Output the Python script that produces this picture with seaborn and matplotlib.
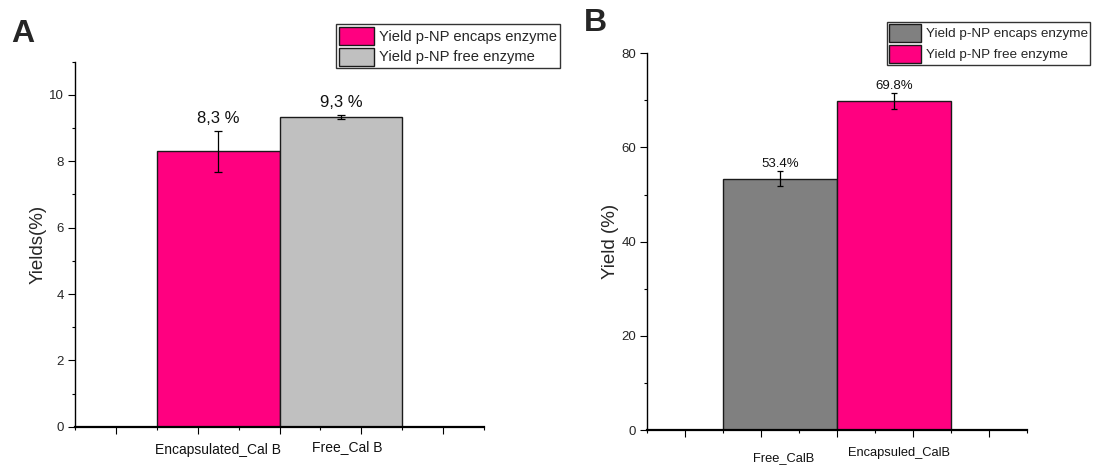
import matplotlib
matplotlib.use("Agg")
import matplotlib.pyplot as plt
import seaborn as sns
import pandas as pd
from matplotlib.ticker import FixedLocator, MultipleLocator, NullFormatter

# ---------------- data ----------------
a_categories = ["Encapsulated_Cal B", "Free_Cal B"]
a_series = ["Yield p-NP encaps enzyme", "Yield p-NP free enzyme"]
a_values = [8.3, 9.35]
a_errors = [0.61, 0.06]
a_value_labels = ["8,3 %", "9,3 %"]

b_categories = ["Free_CalB", "Encapsuled_CalB"]
b_series = ["Yield p-NP encaps enzyme", "Yield p-NP free enzyme"]
b_values = [53.4, 69.8]
b_errors = [1.5, 1.7]
b_value_labels = ["53.4%", "69.8%"]

# ---------------- style ----------------
sns.set_style("ticks")
plt.rcParams["font.family"] = ["Liberation Sans", "DejaVu Sans"]

PINK = "#FF0080"
LIGHT_GRAY = "#C0C0C0"
DARK_GRAY = "#808080"
EDGE = "#1a1a1a"
SLOTS = [3.5, 6.5]          # bar centres on a 0..10 axis

W, H = 1095, 465
fig = plt.figure(figsize=(W / 100, H / 100), dpi=100)
fig.patch.set_facecolor("white")

axA = fig.add_axes([75 / W, 1 - 426.7 / H, 409 / W, (426.7 - 61.8) / H])
axB = fig.add_axes([647.3 / W, 1 - 430 / H, 380 / W, (430 - 53.3) / H])


def draw_panel(ax, cats, series, vals, errs, vlabels, colors, ylim, major, minor,
               ylabel, vfs, voff, capsize, cat_fs, cat_offsets, leg_anchor, leg_kw):
    df = pd.DataFrame({"pos": SLOTS, "value": vals, "series": series})
    sns.barplot(data=df, x="pos", y="value", hue="series", hue_order=series,
                palette=dict(zip(series, colors)), native_scale=True, dodge=False,
                width=1.0, saturation=1, edgecolor=EDGE, linewidth=1.0,
                errorbar=None, ax=ax, legend=True)
    ax.errorbar(SLOTS, vals, yerr=errs, fmt="none", ecolor="black",
                elinewidth=0.9, capsize=capsize, capthick=0.9, zorder=5)
    for x, v, e, t in zip(SLOTS, vals, errs, vlabels):
        ax.annotate(t, xy=(x, v + e), xytext=(0, voff), textcoords="offset pixels",
                    ha="center", va="baseline", fontsize=vfs, color="#111111")

    ax.set_xlim(0, 10)
    ax.set_ylim(*ylim)
    ax.xaxis.set_major_locator(FixedLocator([1, 3, 5, 7, 9]))
    ax.xaxis.set_minor_locator(FixedLocator([0, 2, 4, 6, 8, 10]))
    ax.xaxis.set_major_formatter(NullFormatter())
    ax.yaxis.set_major_locator(MultipleLocator(major))
    ax.yaxis.set_minor_locator(MultipleLocator(minor))
    ax.tick_params(axis="both", which="major", direction="out", length=5,
                   width=0.8, color="black", labelsize=9.5, pad=3)
    ax.tick_params(axis="both", which="minor", direction="out", length=2.5,
                   width=0.8, color="black")
    ax.set_xlabel("")
    ax.set_ylabel(ylabel, fontsize=13.5, labelpad=1.5)
    sns.despine(ax=ax)
    ax.spines["left"].set_linewidth(1.0)
    ax.spines["bottom"].set_linewidth(1.6)
    ax.spines["left"].set_color("black")
    ax.spines["bottom"].set_color("black")

    for x, c, (dx, dy) in zip(SLOTS, cats, cat_offsets):
        ax.annotate(c, xy=(x, 0), xycoords=ax.get_xaxis_transform(),
                    xytext=(dx, -dy), textcoords="offset pixels",
                    ha="center", va="center", fontsize=cat_fs, color="#111111")

    old = ax.get_legend()
    handles = old.legend_handles
    labels = [t.get_text() for t in old.get_texts()]
    old.remove()
    for h in handles:
        h.set_edgecolor(EDGE)
        h.set_linewidth(1.0)
    leg = ax.legend(handles, labels, loc="upper left", bbox_to_anchor=leg_anchor,
                    bbox_transform=fig.transFigure, frameon=True, fancybox=False,
                    framealpha=1, edgecolor="#333333", borderaxespad=0, **leg_kw)
    leg.get_frame().set_linewidth(1.0)


draw_panel(axA, a_categories, a_series, a_values, a_errors, a_value_labels,
           [PINK, LIGHT_GRAY], (0, 11), 2, 1, "Yields(%)", 12, 8, 2.9, 10,
           [(0, 23), (6, 20)], (335.7 / W, 1 - 24 / H),
           dict(fontsize=10.6, handlelength=2.4, handleheight=1.5, labelspacing=0.18,
                handletextpad=0.35, borderpad=0.2))
draw_panel(axB, b_categories, b_series, b_values, b_errors, b_value_labels,
           [DARK_GRAY, PINK], (0, 80), 20, 10, "Yield (%)", 9.5, 4,
           2.2, 9.3, [(3, 28), (5, 23)], (887.3 / W, 1 - 21.7 / H),
           dict(fontsize=9.7, handlelength=2.33, handleheight=1.7, labelspacing=0.2,
                handletextpad=0.37, borderpad=0.15))

fig.text(22.5 / W, 1 - 34 / H, "A", ha="center", va="center", fontsize=23,
         fontweight="bold")
fig.text(595 / W, 1 - 23.4 / H, "B", ha="center", va="center", fontsize=23,
         fontweight="bold")

fig.savefig("out.png", dpi=100, facecolor="white")
